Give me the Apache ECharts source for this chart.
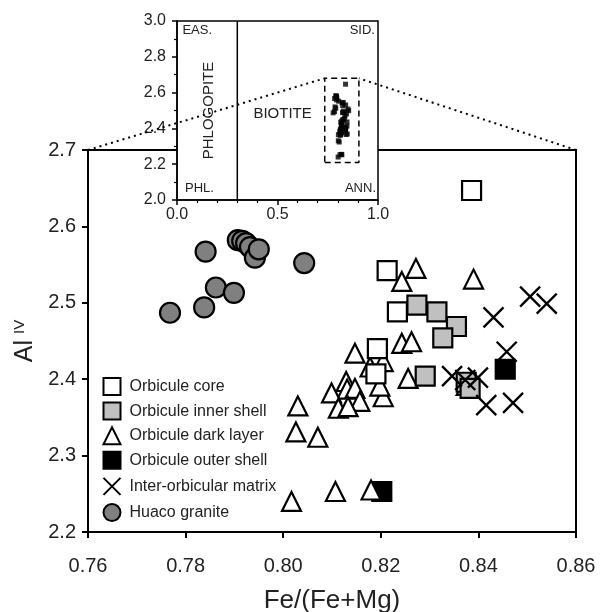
<!DOCTYPE html>
<html><head><meta charset="utf-8">
<script src="https://cdn.jsdelivr.net/npm/echarts@6/dist/echarts.min.js"></script>
<style>html,body{margin:0;padding:0;background:#fff}#c{width:600px;height:612px}</style>
</head><body><div id="c"></div>
<script>
// ---- data (Fe/(Fe+Mg), Al IV) ----
const orbiculeCore = [[0.8386,2.647],[0.8213,2.542],[0.8234,2.488],[0.8193,2.440],[0.8190,2.407]];
const orbiculeInnerShell = [[0.8274,2.497],[0.8315,2.488],[0.8355,2.469],[0.8327,2.454],[0.8291,2.404],[0.8375,2.396],[0.8383,2.388]];
const orbiculeDarkLayer = [[0.8272,2.545],[0.8243,2.528],[0.8390,2.531],[0.8243,2.447],[0.8263,2.449],[0.8147,2.434],[0.8256,2.401],[0.8178,2.416],[0.8205,2.423],[0.8129,2.397],[0.8131,2.387],[0.8147,2.388],[0.8099,2.382],[0.8157,2.371],[0.8113,2.362],[0.8133,2.364],[0.8205,2.377],[0.8198,2.391],[0.8030,2.365],[0.8026,2.331],[0.8071,2.324],[0.8017,2.240],[0.8107,2.253],[0.8180,2.255],[0.8375,2.392]];
const orbiculeOuterShell = [[0.8455,2.413],[0.8202,2.253]];
const interOrbicularMatrix = [[0.8506,2.508],[0.8540,2.499],[0.8431,2.481],[0.8458,2.436],[0.8346,2.404],[0.8373,2.399],[0.8399,2.402],[0.8416,2.366],[0.8471,2.369]];
const huacoGranite = [[0.7768,2.487],[0.7838,2.494],[0.7862,2.520],[0.7899,2.513],[0.7841,2.567],[0.7907,2.582],[0.7916,2.581],[0.7924,2.578],[0.7932,2.573],[0.7942,2.559],[0.7950,2.570],[0.8043,2.552]];
const legendNames = ['Orbicule core','Orbicule inner shell','Orbicule dark layer','Orbicule outer shell','Inter-orbicular matrix','Huaco granite'];
// main axes
const mainX = {min:0.76, max:0.86, step:0.02};
const mainY = {min:2.2, max:2.7, step:0.1};
// inset axes
const insetX = {min:0, max:1, step:0.5};
const insetY = {min:2, max:3, step:0.2};
const phlBioBoundary = [[0.3,2.0],[0.3,3.0]];
const zoomBoxX = [0.735, 0.905];
const zoomBoxY = [2.21, 2.68];
const insetCorners = {tl:'EAS.', tr:'SID.', bl:'PHL.', br:'ANN.'};
const fieldNames = ['PHLOGOPITE','BIOTITE'];

const FONT = "'Liberation Sans', Arial, Helvetica, sans-serif";
const allPoints = [].concat(orbiculeCore, orbiculeInnerShell, orbiculeDarkLayer, orbiculeOuterShell, interOrbicularMatrix, huacoGranite);
const boxPath = [[zoomBoxX[0],zoomBoxY[0]],[zoomBoxX[1],zoomBoxY[0]],[zoomBoxX[1],zoomBoxY[1]],[zoomBoxX[0],zoomBoxY[1]],[zoomBoxX[0],zoomBoxY[0]]];

const chart = echarts.init(document.getElementById('c'));
const mk = (name, symbol, data, fill, z, size, bw) => ({
  name, type:'scatter', xAxisIndex:0, yAxisIndex:0, symbol, symbolSize:size||19, data, z,
  itemStyle:{color:fill, borderColor:'#000', borderWidth:bw||2.2, opacity:1},
  emphasis:{disabled:true}
});
chart.setOption({
  animation:false,
  textStyle:{fontFamily:FONT},
  grid:[
    {left:88, top:150, width:488, height:382, show:true, borderColor:'#000', borderWidth:2, backgroundColor:'transparent', z:0, containLabel:false, outerBoundsMode:'none'},
    {left:177, top:21, width:201, height:179, show:true, borderColor:'#000', borderWidth:1.5, backgroundColor:'#fff', z:10, containLabel:false, outerBoundsMode:'none'}
  ],
  xAxis:[
    {gridIndex:0, type:'value', min:mainX.min, max:mainX.max, interval:mainX.step,
     axisLine:{lineStyle:{color:'#000', width:2}}, axisTick:{length:6, lineStyle:{color:'#000', width:2}},
     splitLine:{show:false}, axisLabel:{color:'#222', fontSize:20, margin:24, formatter:v=>v.toFixed(2), fontFamily:FONT},
     name:'Fe/(Fe+Mg)', nameLocation:'middle', nameGap:56, nameTextStyle:{fontSize:26, color:'#222', fontFamily:FONT}},
    {gridIndex:1, type:'value', min:insetX.min, max:insetX.max, interval:insetX.step, z:11,
     axisLine:{lineStyle:{color:'#000', width:1.5}}, axisTick:{length:5, lineStyle:{color:'#000', width:1.5}},
     minorTick:{show:true, splitNumber:5, length:3, lineStyle:{color:'#000', width:1.2}},
     splitLine:{show:false}, axisLabel:{color:'#222', fontSize:16, margin:7, formatter:v=>v.toFixed(1), fontFamily:FONT}}
  ],
  yAxis:[
    {gridIndex:0, type:'value', min:mainY.min, max:mainY.max, interval:mainY.step,
     axisLine:{lineStyle:{color:'#000', width:2}}, axisTick:{length:6, lineStyle:{color:'#000', width:2}},
     splitLine:{show:false}, axisLabel:{color:'#222', fontSize:20, margin:12, formatter:v=>v.toFixed(1), fontFamily:FONT},
     name:'{a|Al}{b|IV}', nameLocation:'middle', nameGap:45, nameRotate:90,
     nameTextStyle:{color:'#222', fontFamily:FONT, rich:{a:{fontSize:25, color:'#222', fontFamily:FONT}, b:{fontSize:15, color:'#222', verticalAlign:'top', padding:[0,0,0,6], fontFamily:FONT}}}},
    {gridIndex:1, type:'value', min:insetY.min, max:insetY.max, interval:insetY.step, z:11,
     axisLine:{lineStyle:{color:'#000', width:1.5}}, axisTick:{length:5, lineStyle:{color:'#000', width:1.5}},
     minorTick:{show:true, splitNumber:2, length:3, lineStyle:{color:'#000', width:1.2}},
     splitLine:{show:false}, axisLabel:{color:'#222', fontSize:16, margin:11, formatter:v=>v.toFixed(1), fontFamily:FONT}}
  ],
  legend:{
    data:legendNames, orient:'vertical', left:96, top:372, itemWidth:17, itemHeight:17, itemGap:5.6,
    textStyle:{fontSize:16, color:'#222', fontFamily:FONT, padding:[0,0,0,4]}, selectedMode:false, z:9
  },
  series:[
    mk(legendNames[0], 'rect', orbiculeCore, '#fff', 4),
    mk(legendNames[1], 'rect', orbiculeInnerShell, '#c0c0c0', 5),
    mk(legendNames[2], 'triangle', orbiculeDarkLayer, '#fff', 3, 19),
    mk(legendNames[3], 'rect', orbiculeOuterShell, '#000', 2),
    mk(legendNames[4], 'path://M0,0L20,20M20,0L0,20', interOrbicularMatrix, 'none', 6, 20, 2.3),
    mk(legendNames[5], 'circle', huacoGranite, '#808080', 7, 20),
    {type:'scatter', xAxisIndex:1, yAxisIndex:1, symbol:'rect', symbolSize:5, data:allPoints, z:12,
     itemStyle:{color:'#000'}, emphasis:{disabled:true}, silent:true},
    {type:'line', xAxisIndex:1, yAxisIndex:1, data:phlBioBoundary, symbol:'none', z:12,
     lineStyle:{color:'#000', width:1.5}, silent:true},
    {type:'line', xAxisIndex:1, yAxisIndex:1, data:boxPath, symbol:'none', z:12,
     lineStyle:{color:'#000', width:1.5, type:[6,4]}, silent:true}
  ]
});

// connectors and inset annotations, positioned through the library's scales
const a0 = chart.convertToPixel({gridIndex:0}, [mainX.min, mainY.max]);
const a1 = chart.convertToPixel({gridIndex:0}, [mainX.max, mainY.max]);
const b0 = chart.convertToPixel({gridIndex:1}, [zoomBoxX[0], zoomBoxY[1]]);
const b1 = chart.convertToPixel({gridIndex:1}, [zoomBoxX[1], zoomBoxY[1]]);
const ip = (x,y) => chart.convertToPixel({gridIndex:1}, [x,y]);
const dotStyle = {stroke:'#000', lineWidth:2, lineDash:[2,4]};
const txt = (p, text, align, size, rot) => ({type:'text', x:p[0], y:p[1], rotation:rot||0, z:30,
  style:{text, fill:'#222', font:(size||13)+'px '+FONT, textAlign:align, textVerticalAlign:'middle'}});
chart.setOption({graphic:[
  {type:'line', z:30, shape:{x1:a0[0], y1:a0[1], x2:b0[0], y2:b0[1]}, style:dotStyle},
  {type:'line', z:30, shape:{x1:a1[0], y1:a1[1], x2:b1[0], y2:b1[1]}, style:dotStyle},
  txt(ip(0.027,2.945), insetCorners.tl, 'left'),
  txt(ip(0.985,2.945), insetCorners.tr, 'right'),
  txt(ip(0.04,2.067), insetCorners.bl, 'left'),
  txt(ip(0.99,2.067), insetCorners.br, 'right'),
  txt(ip(0.16,2.50), fieldNames[0], 'center', 15, Math.PI/2),
  txt(ip(0.38,2.483), fieldNames[1], 'left', 15)
]});
</script></body></html>
